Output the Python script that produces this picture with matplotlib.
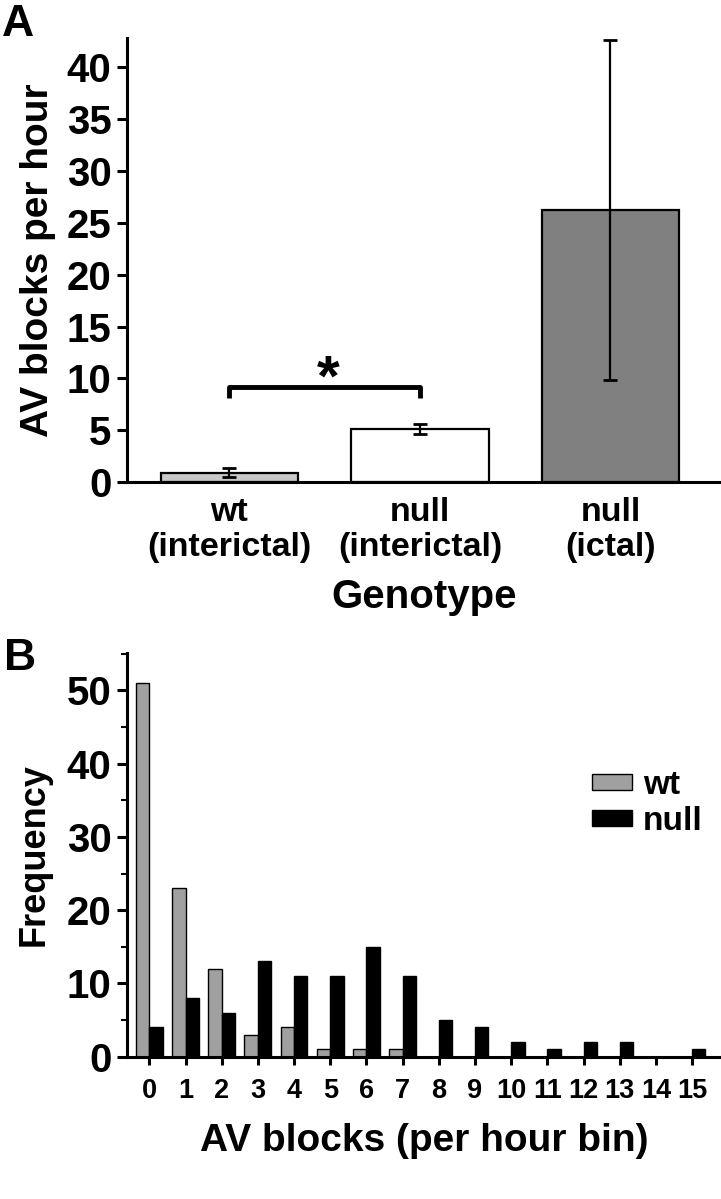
import matplotlib
matplotlib.use("Agg")
import matplotlib.pyplot as plt
from matplotlib.ticker import MultipleLocator
import numpy as np

plt.rcParams['font.family'] = ['Liberation Sans', 'DejaVu Sans']
plt.rcParams['font.weight'] = 'bold'

# panel A: mean AV blocks per hour by group
groups = ["wt\n(interictal)", "null\n(interictal)", "null\n(ictal)"]
block_rate = [0.9, 5.1, 26.2]
block_err = [0.45, 0.5, 16.4]
group_colors = ['#c8c8c8', '#ffffff', '#808080']

# panel B: histogram of AV blocks per hour bin
bins = list(range(16))
wt_freq = [51, 23, 12, 3, 4, 1, 1, 1, 0, 0, 0, 0, 0, 0, 0, 0]
null_freq = [4, 8, 6, 13, 11, 11, 15, 11, 5, 4, 2, 1, 2, 2, 0, 1]

fig = plt.figure(figsize=(7.21, 11.99), dpi=100)
axA = fig.add_axes([0.176, 0.598, 0.824, 0.370])
axB = fig.add_axes([0.176, 0.1187, 0.824, 0.3367])

for ax in (axA, axB):
    ax.spines['top'].set_visible(False)
    ax.spines['right'].set_visible(False)
    ax.spines['left'].set_linewidth(2.2)
    ax.spines['bottom'].set_linewidth(2.2)

# ---- panel A ----
xA = np.arange(len(groups))
axA.bar(xA, block_rate, width=0.72, color=group_colors, edgecolor='black',
        linewidth=1.6, zorder=2)
axA.errorbar(xA, block_rate, yerr=block_err, fmt='none', ecolor='black',
             elinewidth=1.6, capsize=5, capthick=2, zorder=3)

# significance bracket between the two interictal groups
axA.plot([0, 0, 1, 1], [8.1, 9.2, 9.2, 8.1], color='black', lw=3.5,
         solid_capstyle='butt', zorder=3)
axA.text(0.52, 9.8, "*", ha='center', va='center', fontsize=42,
         fontweight='bold')

axA.set_xlim(-0.538, 2.58)
axA.set_ylim(0, 42.8)
axA.yaxis.set_major_locator(MultipleLocator(5))
axA.set_xticks(xA)
axA.set_xticklabels(groups, fontsize=24.5, linespacing=1.15)
axA.tick_params(axis='x', length=0, pad=11)
axA.tick_params(axis='y', direction='out', length=7, width=2.2,
                labelsize=29, pad=4)
axA.set_ylabel("AV blocks per hour", fontsize=28, fontweight='bold',
               labelpad=8)
axA.set_xlabel("Genotype", fontsize=29, fontweight='bold', labelpad=11)

# ---- panel B ----
xB = np.array(bins)
bw = 0.37
axB.bar(xB - bw / 2, wt_freq, width=bw, color='#a0a0a0', edgecolor='black',
        linewidth=1.0, label='wt', zorder=2)
axB.bar(xB + bw / 2, null_freq, width=bw, color='black', edgecolor='black',
        linewidth=1.0, label='null', zorder=2)

axB.set_xlim(-0.62, 15.8)
axB.set_ylim(0, 55.1)
axB.set_xticks(xB)
axB.yaxis.set_major_locator(MultipleLocator(10))
axB.yaxis.set_minor_locator(MultipleLocator(5))
axB.tick_params(axis='x', direction='out', length=6, width=2.2,
                labelsize=19.5, pad=9)
axB.tick_params(axis='y', which='major', direction='out', length=7,
                width=2.2, labelsize=29, pad=4)
axB.tick_params(axis='y', which='minor', direction='out', length=4,
                width=1.5)
axB.set_ylabel("Frequency", fontsize=26, fontweight='bold', labelpad=11)
axB.set_xlabel("AV blocks (per hour bin)", fontsize=28, fontweight='bold',
               labelpad=14)

axB.legend(loc='upper left', bbox_to_anchor=(0.821, 0.358),
           bbox_transform=fig.transFigure, frameon=False, fontsize=24,
           handlelength=1.2, handleheight=0.36, handletextpad=0.33,
           labelspacing=0.15, borderpad=0, borderaxespad=0)

fig.text(0.002, 0.997, "A", fontsize=32, fontweight='bold', va='top')
fig.text(0.006, 0.468, "B", fontsize=32, fontweight='bold', va='top')

fig.savefig("out.png", dpi=100)
